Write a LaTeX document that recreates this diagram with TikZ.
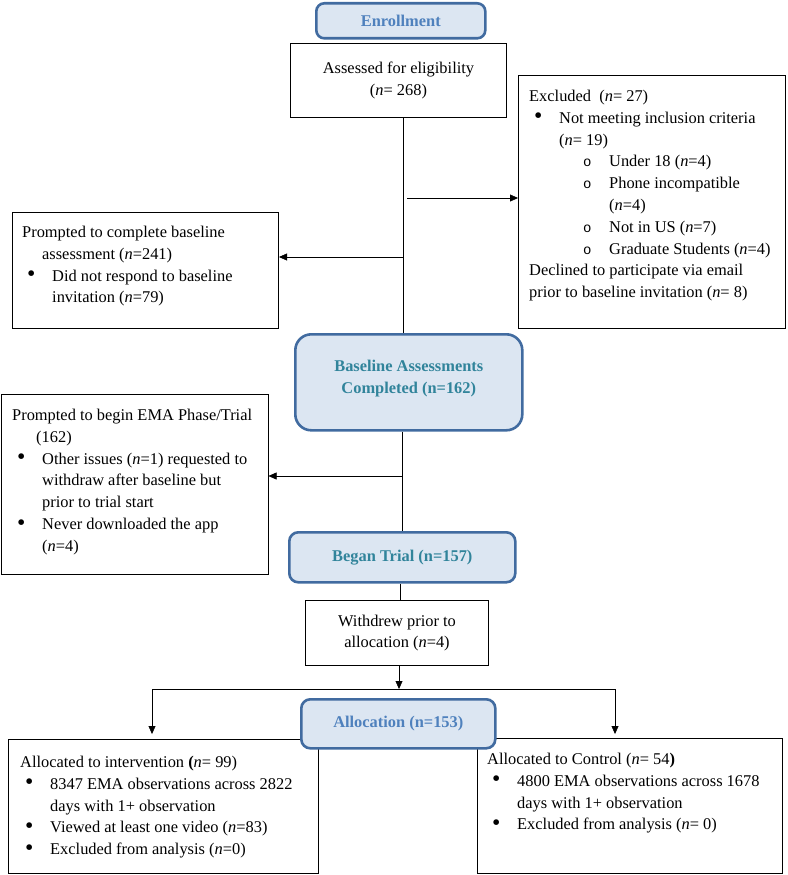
\documentclass[tikz,border=0pt]{standalone}
\usepackage{fontspec}
\setmainfont{Liberation Serif}
\newfontfamily\circfont{Liberation Mono}
\usetikzlibrary{arrows.meta}
\definecolor{hdrfill}{RGB}{220,230,242}
\definecolor{hdrline}{RGB}{65,107,160}
\definecolor{hdrblue}{RGB}{79,129,189}
\definecolor{hdrteal}{RGB}{49,132,155}
\newcommand{\bul}{\makebox[30pt][l]{\hspace*{5pt}\raisebox{-0.6pt}{\scalebox{1.45}{\textbullet}}}}
\newcommand{\cir}{\makebox[80pt][l]{\hspace*{54pt}{\circfont\fontsize{14}{16}\selectfont o}}}
\newcommand{\nn}{\textit{n}}

\begin{document}
\begin{tikzpicture}[x=1pt, y=-1pt,
        every node/.style={inner sep=0pt, font=\fontsize{16.4}{21.8}\selectfont},
        hdr/.style={draw=hdrline, line width=2.6pt, fill=hdrfill, anchor=north west, align=center,
                font=\fontsize{16.4}{21.8}\selectfont\bfseries},
        box/.style={draw, line width=1pt, fill=white, anchor=north west, align=center},
        txt/.style={anchor=north west, align=left},
        arr/.style={-{Triangle[length=8pt, width=7pt]}}]
        \useasboundingbox (0,0) rectangle (787,875);

        \node[hdr, rounded corners=8pt, minimum width=169pt, minimum height=35pt, text=hdrblue]
                (enroll) at (315,2) {Enrollment};
        \node[box, minimum width=216pt, minimum height=74pt] (assess) at (290,43)
                {Assessed for eligibility\\(\nn= 268)};
        \node[box, minimum width=267pt, minimum height=253pt] (excl) at (518,75) {};
        \node[box, minimum width=266pt, minimum height=116pt] (prbase) at (12,212) {};
        \node[hdr, rounded corners=16pt, minimum width=227pt, minimum height=96pt, text=hdrteal]
                (base) at (294,333) {};
        \node[hdr, draw=none, fill=none, anchor=center, text=hdrteal] (basetxt)
                at ([yshift=4pt]base.center) {Baseline Assessments\\Completed (n=162)};
        \node[box, minimum width=267pt, minimum height=180pt] (prema) at (0.5,394) {};
        \node[hdr, rounded corners=9pt, minimum width=226pt, minimum height=50pt, text=hdrteal]
                (began) at (288,531) {Began Trial (n=157)};
        \node[box, minimum width=183pt, minimum height=65pt] (withd) at (305,600)
                {Withdrew prior to\\allocation (\nn=4)};
        \node[box, minimum width=310pt, minimum height=134pt] (interv) at (8,739) {};
        \node[box, minimum width=305pt, minimum height=135pt] (ctrl) at (477,738) {};

        \node[txt] (excltxt) at (529,86) {\strut Excluded~ (\nn= 27)\\
                \bul Not meeting inclusion criteria\\
                \hspace*{30pt}(\nn= 19)\\
                \cir Under 18 (\nn=4)\\
                \cir Phone incompatible\\
                \hspace*{80pt}(\nn=4)\\
                \cir Not in US (\nn=7)\\
                \cir Graduate Students (\nn=4)\\
                Declined to participate via email\\
                prior to baseline invitation (\nn= 8)};
        \node[txt] (prbasetxt) at (22,222) {\strut Prompted to complete baseline\\
                \hspace*{20pt}assessment (\nn=241)\\
                \bul Did not respond to baseline\\
                \hspace*{30pt}invitation (\nn=79)};
        \node[txt] (prematxt) at (12,405) {\strut Prompted to begin EMA Phase/Trial\\
                \hspace*{24pt}(162)\\
                \bul Other issues (\nn=1) requested to\\
                \hspace*{30pt}withdraw after baseline but\\
                \hspace*{30pt}prior to trial start\\
                \bul Never downloaded the app\\
                \hspace*{30pt}(\nn=4)};
        \node[txt] (intervtxt) at (20,752) {\strut Allocated to intervention \textbf{(}\nn= 99)\\
                \bul 8347 EMA observations across 2822\\
                \hspace*{30pt}days with 1+ observation\\
                \bul Viewed at least one video (\nn=83)\\
                \bul Excluded from analysis (\nn=0)};
        \node[txt] (ctrltxt) at (487,749) {\strut Allocated to Control (\nn= 54\textbf{)}\\
                \bul 4800 EMA observations across 1678\\
                \hspace*{30pt}days with 1+ observation\\
                \bul Excluded from analysis (\nn= 0)};

        \coordinate (s1) at (403,0);
        \coordinate (s2) at (402,0);
        \coordinate (s3) at (400,0);
        \coordinate (jr) at (407,198);
        \coordinate (jl) at (403,257);
        \coordinate (jm) at (402,476);
        \coordinate (split) at (399,689);
        \coordinate (splitl) at (152,689);
        \coordinate (splitr) at (615,689);
        \coordinate (tipl) at (152,734);
        \coordinate (tipr) at (615,734);

        \draw (assess.south -| s1) -- (base.north -| s1);
        \draw[arr] (jr) -- (jr -| excl.west);
        \draw[arr] (jl) -- (jl -| prbase.east);
        \draw (base.south -| s2) -- (began.north -| s2);
        \draw[arr] (jm) -- (jm -| prema.east);
        \draw (began.south -| s3) -- (withd.north -| s3);
        \draw[arr] (withd.south -| split) -- (split);
        \draw (splitl) -- (splitr);
        \draw[arr] (splitl) -- (tipl);
        \draw[arr] (splitr) -- (tipr);

        \node[hdr, rounded corners=9pt, minimum width=194pt, minimum height=49pt, text=hdrblue]
                (alloc) at (300,698) {Allocation (n=153)};
\end{tikzpicture}
\end{document}
